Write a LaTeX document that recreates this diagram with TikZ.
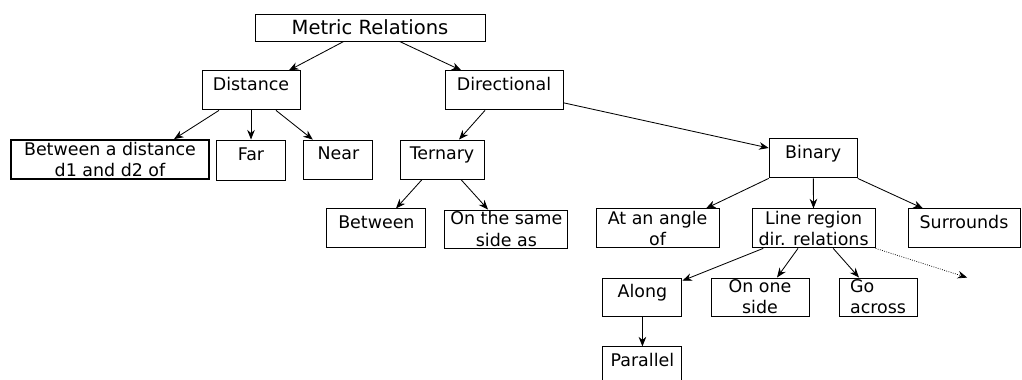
\documentclass[tikz,border=0pt]{standalone}
\usepackage{fontspec}
\setmainfont{DejaVu Sans}
\usepackage{tikz}
\usetikzlibrary{shapes, arrows.meta, positioning}

\begin{document}
\begin{tikzpicture}[
    box/.style={rectangle, draw, line width=0.7pt, inner sep=1pt, minimum height=0.975cm, align=center, font=\fontsize{12.4}{15.1}\selectfont},
    single/.style={box, text height=3mm, text depth=3mm},
    arrow/.style={-{Stealth[length=2.4mm, width=1.9mm]}, line width=0.6pt}
]
    \useasboundingbox (0, 0) rectangle (25.55, -9.5);

    % Root
    \node[box, minimum width=5.75cm, minimum height=0.675cm, font=\fontsize{13.9}{16}\selectfont] (metric) at (9.25, -0.69) {Metric Relations};

    % Level 1
    \node[single, minimum width=2.45cm] (dist) at (6.275, -2.26) {Distance};
    \node[single, minimum width=2.95cm] (dir) at (12.6, -2.26) {Directional};

    % Distance children
    \node[box, minimum width=4.95cm, line width=1.4pt] (btw) at (2.75, -3.99) {Between a distance\\d1 and d2 of};
    \node[single, minimum width=1.725cm, minimum height=1cm] (far) at (6.275, -4.0) {Far};
    \node[single, minimum width=1.725cm] (near) at (8.46, -3.99) {Near};

    % Directional children
    \node[single, minimum width=2.1cm] (tern) at (11.05, -3.99) {Ternary};
    \node[single, minimum width=2.2cm] (bin) at (20.33, -3.96) {Binary};

    % Ternary children
    \node[single, minimum width=2.475cm] (betw) at (9.41, -5.71) {Between};
    \node[box, minimum width=3.075cm, minimum height=0.95cm] (same) at (12.66, -5.725) {On the same\\side as};

    % Binary children
    \node[box, minimum width=3.075cm] (angle) at (16.44, -5.71) {At an angle\\of};
    \node[box, minimum width=3.075cm] (line) at (20.34, -5.71) {Line region\\dir. relations};
    \node[single, minimum width=2.8cm] (surr) at (24.1, -5.71) {Surrounds};

    % Line region children
    \node[single, minimum width=1.975cm, minimum height=0.95cm] (along) at (16.06, -7.425) {Along};
    \node[box, minimum width=2.45cm, minimum height=0.95cm] (oneside) at (19.0, -7.425) {On one\\side};
    \node[box, minimum width=1.95cm, minimum height=0.95cm, align=left] (across) at (21.95, -7.425) {Go\\across};
    \node[single, minimum width=1.975cm] (par) at (16.06, -9.16) {Parallel};
    \coordinate (more) at (24.18, -6.94);

    % Arrows
    \draw[arrow] (metric) -- (dist);
    \draw[arrow] (metric) -- (dir);
    \draw[arrow] ([xshift=-0.8cm]dist.south) -- ([xshift=1.6cm]btw.north);
    \draw[arrow] (dist.south) -- (far.north);
    \draw[arrow] ([xshift=0.625cm]dist.south) -- ([xshift=-0.64cm]near.north);
    \draw[arrow] ([xshift=-0.475cm]dir.south) -- ([xshift=0.425cm]tern.north);
    \draw[arrow] ([yshift=-0.31cm]dir.east) -- ([yshift=0.26cm]bin.west);
    \draw[arrow] ([xshift=-0.5cm]tern.south) -- ([xshift=0.49cm]betw.north);
    \draw[arrow] ([xshift=0.475cm]tern.south) -- ([xshift=-0.46cm]same.north);
    \draw[arrow] (bin.south west) -- ([xshift=1.21cm]angle.north);
    \draw[arrow] (bin) -- (line);
    \draw[arrow] (bin.south east) -- ([xshift=-1.025cm]surr.north);
    \draw[arrow] ([xshift=-1.26cm]line.south) -- ([yshift=-0.08cm]along.north east);
    \draw[arrow] ([xshift=-0.39cm]line.south) -- ([xshift=0.425cm]oneside.north);
    \draw[arrow] ([xshift=0.49cm]line.south) -- ([xshift=-0.475cm]across.north);
    \draw[arrow, densely dotted, line width=0.5pt] (line.south east) -- (more);
    \draw[arrow] (along) -- (par);

\end{tikzpicture}
\end{document}
